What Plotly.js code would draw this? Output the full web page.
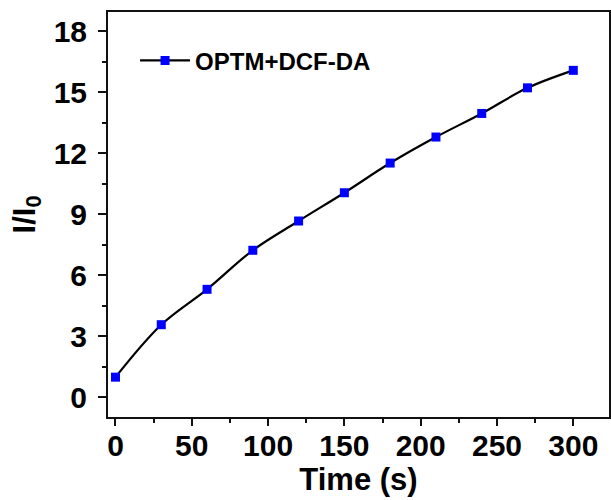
<!DOCTYPE html>
<html>
<head>
<meta charset="utf-8">
<script src="https://cdn.plot.ly/plotly-3.0.1.min.js"></script>
<style>html,body{margin:0;padding:0;background:#fff;}#chart{width:611px;height:500px;}</style>
</head>
<body>
<div id="chart"></div>
<script>
const seriesName = "OPTM+DCF-DA";
const timeS = [0, 30, 60, 90, 120, 150, 180, 210, 240, 270, 300];
const ratio = [0.98, 3.56, 5.30, 7.22, 8.66, 10.05, 11.51, 12.79, 13.95, 15.21, 16.07];
const xTicks = [0, 50, 100, 150, 200, 250, 300];
const yTicks = [0, 3, 6, 9, 12, 15, 18];

const FONT = "Arial, 'Liberation Sans', sans-serif";

const trace = {
  x: timeS, y: ratio, name: seriesName,
  type: 'scatter', mode: 'lines+markers',
  line: {color: '#000000', width: 2.2, shape: 'spline', smoothing: 1.0},
  marker: {symbol: 'square', size: 9, color: '#0000ff'}
};

const axisCommon = {
  showline: true, mirror: true, linecolor: '#111111', linewidth: 2,
  showgrid: false, zeroline: false,
  ticks: 'outside', ticklen: 8, tickwidth: 2, tickcolor: '#111111',
  tickfont: {family: FONT, size: 30, color: '#000', weight: 'bold'}
};

const layout = {
  width: 611, height: 500,
  margin: {l: 108, r: 2, t: 12, b: 83},
  paper_bgcolor: '#ffffff', plot_bgcolor: '#ffffff',
  showlegend: true,
  legend: {x: 0.054, y: 0.935, xanchor: 'left', yanchor: 'top', bgcolor: 'rgba(0,0,0,0)',
           itemwidth: 50,
           font: {family: FONT, size: 24, color: '#000', weight: 'bold'}},
  xaxis: Object.assign({}, axisCommon, {
    range: [-4.9, 323.4], tickvals: xTicks, ticktext: xTicks.map(String),
    ticklen: 7, ticklabelstandoff: -6,
    minor: {ticks: 'outside', ticklen: 4, tickwidth: 2, tickcolor: '#111111', dtick: 25, showgrid: false},
    title: {text: 'Time (s)', font: {family: FONT, size: 31, color: '#000', weight: 'bold'}, standoff: 6}
  }),
  yaxis: Object.assign({}, axisCommon, {
    range: [-0.98, 18.94], tickvals: yTicks, ticktext: yTicks.map(String),
    ticklabelstandoff: 5,
    minor: {ticks: 'outside', ticklen: 4, tickwidth: 2, tickcolor: '#111111', dtick: 1.5, showgrid: false},
    title: {text: 'I/I<sub>0</sub>', font: {family: FONT, size: 31, color: '#000', weight: 'bold'}, standoff: 9}
  })
};

Plotly.newPlot('chart', [trace], layout, {displayModeBar: false, staticPlot: true});
</script>
</body>
</html>
